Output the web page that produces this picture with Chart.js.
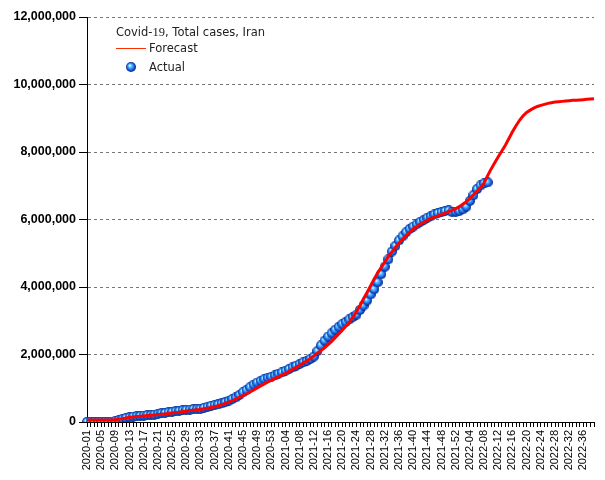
<!DOCTYPE html>
<html><head><meta charset="utf-8">
<style>
html,body{margin:0;padding:0;background:#fff;}
#wrap{position:relative;width:605px;height:480px;overflow:hidden;}
#c{position:absolute;left:0;top:0;}
.lg{position:absolute;font-family:"DejaVu Sans",sans-serif;font-size:11.5px;color:#222;white-space:nowrap;line-height:14px;}
.serif{font-family:"Liberation Serif","DejaVu Serif",serif;font-size:12.5px;}
#legLine{position:absolute;left:116px;top:48px;width:30px;height:1px;background:#ff3000;}
#legBall{position:absolute;left:126px;top:62px;}
</style>
<script src="https://cdn.jsdelivr.net/npm/chart.js@4/dist/chart.umd.min.js"></script>
</head><body>
<div id="wrap">
<canvas id="c" width="605" height="480"></canvas>
<div class="lg" style="left:116px;top:25px">Covid-<span class="serif">19</span>, Total cases, Iran</div>
<div id="legLine"></div>
<div class="lg" style="left:149px;top:41px">Forecast</div>
<canvas id="legBall" width="10" height="10"></canvas>
<div class="lg" style="left:149px;top:60px">Actual</div>
</div>
<script>
// ---- data ----
const years = [2020, 2021, 2022];
const weeksInYear = [53, 52, 39];

// Actual cumulative cases (millions), weekly from 2020-01
const actualMillions = [
 0,0,0,0,0,0,0,0.01,0.03,0.06,
 0.09,0.12,0.14,0.16,0.17,0.18,0.19,0.20,0.21,0.22,
 0.24,0.26,0.27,0.29,0.30,0.32,0.33,0.35,0.36,0.37,
 0.38,0.38,0.39,0.42,0.45,0.48,0.50,0.52,0.55,0.59,
 0.63,0.68,0.73,0.80,0.88,0.95,1.03,1.11,1.17,1.22,
 1.27,1.31,1.34,1.38,1.43,1.47,1.52,1.57,1.62,1.67,
 1.72,1.77,1.81,1.87,1.94,2.10,2.27,2.41,2.53,2.63,
 2.73,2.82,2.90,2.97,3.04,3.11,3.18,3.32,3.45,3.60,
 3.78,3.93,4.14,4.38,4.60,4.82,5.05,5.22,5.38,5.50,
 5.62,5.72,5.79,5.86,5.93,5.99,6.05,6.10,6.15,6.19,
 6.22,6.25,6.27,6.22,6.23,6.25,6.30,6.38,6.55,6.72,
 6.90,7.01,7.07,7.10
];

// Forecast cumulative cases (millions), weekly from 2020-01
const forecastMillions = [
 0.06,0.06,0.06,0.06,0.06,0.06,0.06,0.06,0.07,0.08,
 0.10,0.12,0.14,0.15,0.16,0.17,0.18,0.19,0.20,0.21,
 0.22,0.23,0.24,0.25,0.27,0.28,0.29,0.31,0.32,0.34,
 0.35,0.36,0.37,0.39,0.41,0.43,0.45,0.48,0.51,0.55,
 0.59,0.63,0.68,0.73,0.78,0.83,0.89,0.95,1.01,1.07,
 1.13,1.19,1.24,1.29,1.34,1.39,1.44,1.50,1.56,1.62,
 1.68,1.75,1.81,1.88,1.96,2.04,2.12,2.20,2.29,2.39,
 2.50,2.61,2.72,2.84,2.96,3.10,3.27,3.45,3.65,3.84,
 4.04,4.24,4.42,4.58,4.74,4.90,5.04,5.17,5.30,5.42,
 5.52,5.62,5.71,5.79,5.86,5.92,5.98,6.03,6.07,6.11,
 6.15,6.19,6.23,6.27,6.32,6.38,6.45,6.53,6.62,6.73,
 6.84,6.95,7.08,7.30,7.50,7.68,7.86,8.03,8.20,8.40,
 8.60,8.78,8.94,9.07,9.17,9.24,9.30,9.35,9.38,9.41,
 9.44,9.46,9.48,9.49,9.50,9.51,9.52,9.53,9.53,9.54,
 9.55,9.56,9.57,9.58
];

const yTickStep = 2000000;
const yMax = 12000000;

// ---- build ----
const categories = [];
years.forEach((y, k) => {
  for (let w = 1; w <= weeksInYear[k]; w++) categories.push(y + '-' + String(w).padStart(2, '0'));
});
const actual = actualMillions.map(v => Math.round(v * 1e6));
const forecast = forecastMillions.map(v => Math.round(v * 1e6));

function drawSphere(cv) {
  const g = cv.getContext('2d');
  const s = cv.width, r = s / 2;
  const grad = g.createRadialGradient(r * 0.75, r * 0.65, 0.2, r, r, r);
  grad.addColorStop(0, '#e6ffff');
  grad.addColorStop(0.3, '#5cc4ff');
  grad.addColorStop(0.65, '#1c6cf0');
  grad.addColorStop(1, '#06207a');
  g.fillStyle = grad;
  g.beginPath(); g.arc(r, r, r, 0, Math.PI * 2); g.fill();
}
const sphere = document.createElement('canvas');
sphere.width = 10; sphere.height = 10;
drawSphere(sphere);
drawSphere(document.getElementById('legBall'));

new Chart(document.getElementById('c'), {
  type: 'line',
  data: {
    labels: categories,
    datasets: [
      { label: 'Forecast', data: forecast, borderColor: '#ff0000', borderWidth: 3, pointRadius: 0, tension: 0, fill: false },
      { label: 'Actual', data: actual, showLine: false, pointStyle: sphere, pointRadius: 5, borderWidth: 0 }
    ]
  },
  options: {
    responsive: false, animation: false, devicePixelRatio: 1,
    layout: { padding: { top: 17, right: 11, left: 0, bottom: 0 } },
    plugins: { legend: { display: false }, tooltip: { enabled: false } },
    scales: {
      x: {
        offset: false,
        grid: { drawOnChartArea: false, drawTicks: true, tickLength: 5, color: '#000', tickColor: '#000' },
        border: { color: '#000', width: 1 },
        ticks: {
          autoSkip: false, maxRotation: 90, minRotation: 90, padding: 3, color: '#000',
          font: { family: 'Liberation Sans', size: 11 },
          callback: (v, i) => (i % 4 === 0 ? categories[i] : '')
        },
        afterFit: s => { s.height = 58; s.paddingLeft = 0; s.paddingRight = 0; }
      },
      y: {
        min: 0, max: yMax,
        ticks: {
          stepSize: yTickStep, color: '#000', padding: 3,
          font: { family: 'Liberation Sans', size: 12.5, weight: 'bold' },
          callback: v => Number(v).toLocaleString('en-US')
        },
        grid: { color: '#777', tickLength: 8, tickColor: '#000', tickBorderDash: [0, 0] },
        border: { color: '#000', width: 1, dash: [3, 3] },
        afterFit: s => { s.width = 87; s.paddingTop = 0; s.paddingBottom = 0; }
      }
    }
  }
});
</script>
</body></html>
